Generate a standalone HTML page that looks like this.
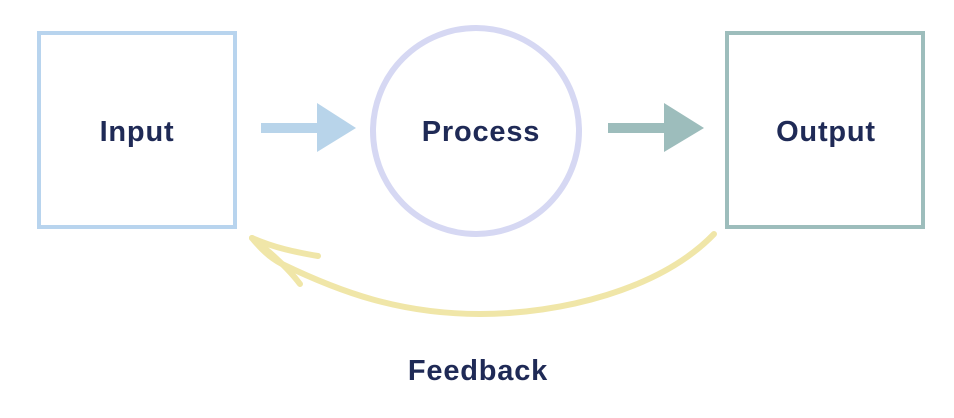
<!DOCTYPE html>
<html><head><style>
html,body{margin:0;padding:0;background:#fff;width:954px;height:418px;overflow:hidden}
</style></head><body>
<svg width="954" height="418" viewBox="0 0 954 418" xmlns="http://www.w3.org/2000/svg">
<rect x="39" y="33" width="196" height="194" fill="none" stroke="#b8d4ee" stroke-width="4"/>
<circle cx="476" cy="131" r="103" fill="none" stroke="#d6d8f3" stroke-width="6"/>
<rect x="727" y="33" width="196" height="194" fill="none" stroke="#9dbdbc" stroke-width="4"/>
<rect x="261" y="123" width="58" height="10" fill="#b8d4ea"/>
<polygon points="317,103 356,128 317,152" fill="#b8d4ea"/>
<rect x="608" y="123" width="58" height="10" fill="#9dbdbc"/>
<polygon points="664,103 704,128 664,152" fill="#9dbdbc"/>
<g fill="none" stroke="#f0e6a8" stroke-width="6" stroke-linecap="round" stroke-linejoin="round">
<path d="M714,234 C660,290 560,314 480,314 C400,314 340,292 282,264 C270,258 260,248 252,238"/>
<path d="M252,238 C275,248 295,252 318,256"/>
<path d="M252,238 C270,252 288,268 300,284"/>
</g>
<g font-family="Liberation Sans, sans-serif" font-weight="bold" font-size="29" fill="#1f2a56" text-anchor="middle" letter-spacing="0.8">
<text x="137" y="141">Input</text>
<text x="481" y="141">Process</text>
<text x="826" y="141">Output</text>
<text x="478" y="380">Feedback</text>
</g>
</svg>
</body></html>
